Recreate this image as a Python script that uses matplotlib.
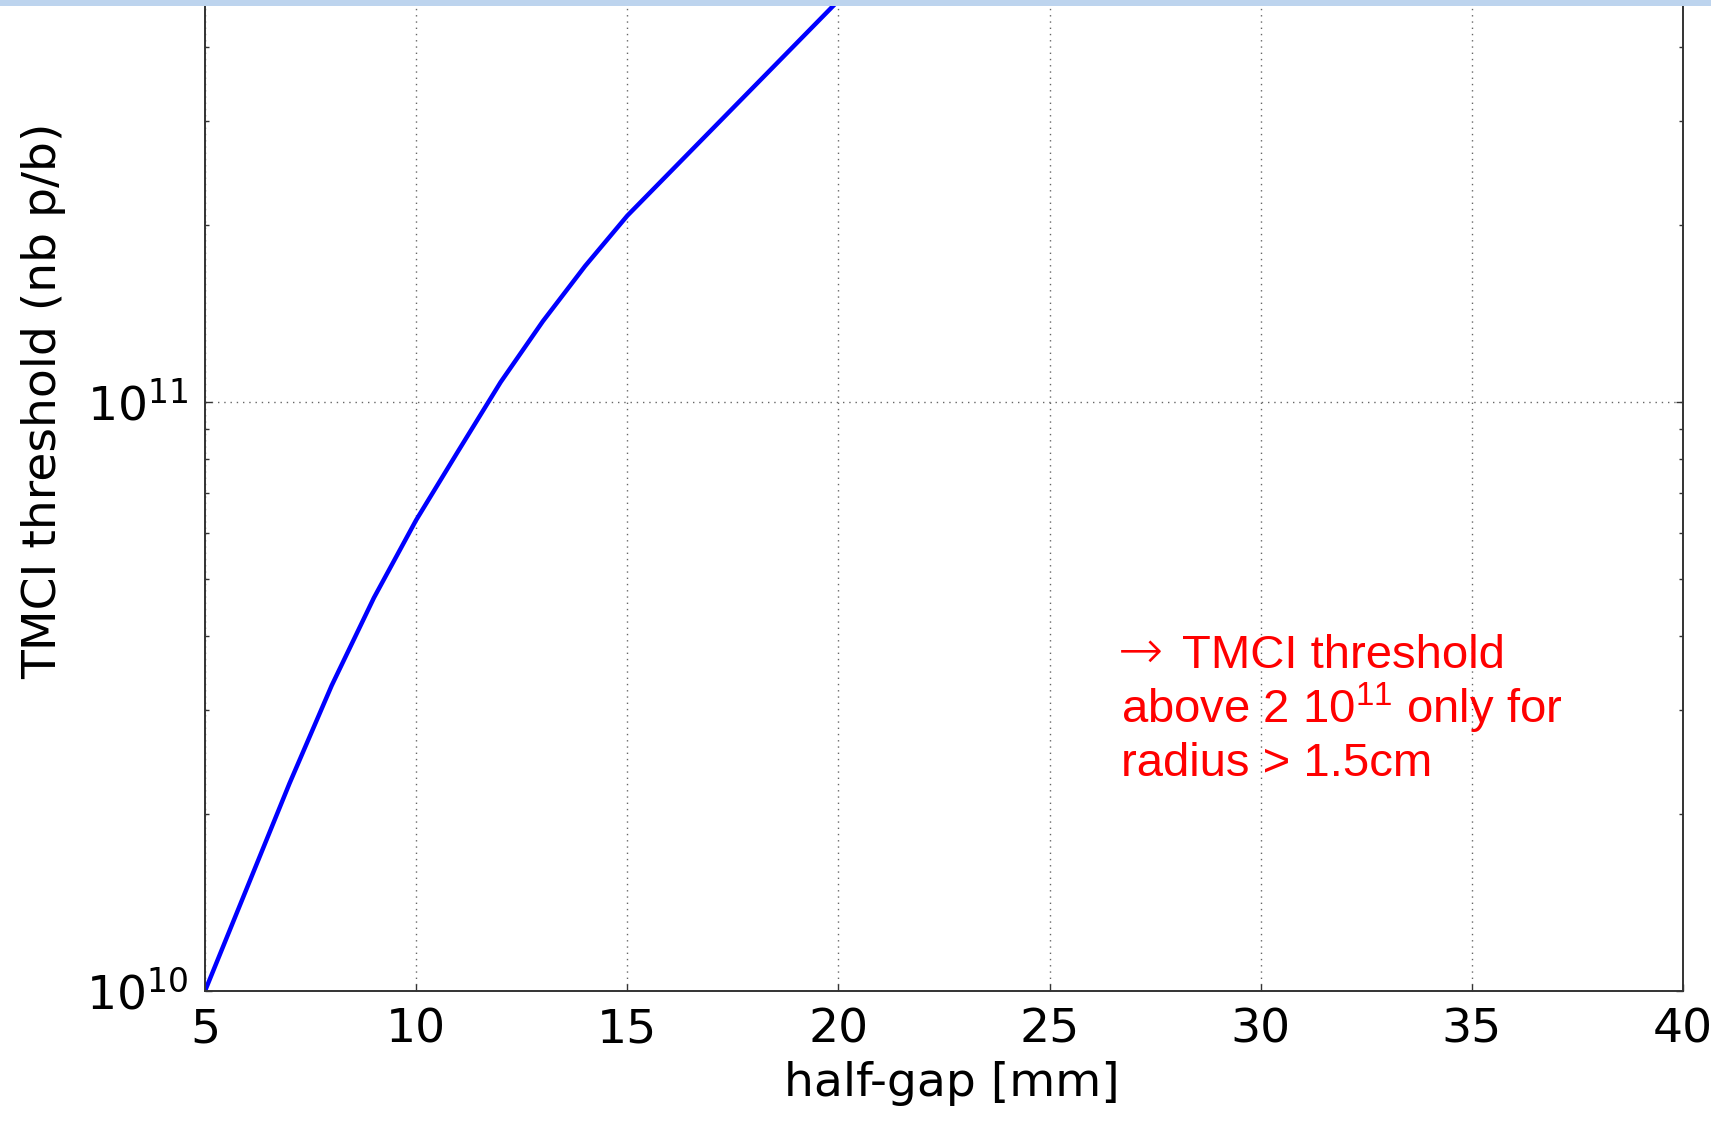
import matplotlib
matplotlib.use("Agg")
import matplotlib.pyplot as plt
from matplotlib.patches import Rectangle

# ---- data ----
half_gap = [5, 6, 7, 8, 9, 10, 11, 12, 13, 14, 15, 20]
tmci_threshold = [1.0e10, 1.5e10, 2.25e10, 3.3e10, 4.65e10, 6.3e10,
                  8.26e10, 1.08e11, 1.37e11, 1.70e11, 2.07e11, 4.8e11]
x_ticks = [5, 10, 15, 20, 25, 30, 35, 40]
x_label = "half-gap [mm]"
y_label = "TMCI threshold (nb p/b)"
note_arrow = "\u2192"
note_lines = ["TMCI threshold",
              r"above 2 10$^{\mathregular{11}}$ only for",
              "radius > 1.5cm"]

plt.rcParams['font.family'] = ['DejaVu Sans']
plt.rcParams['font.size'] = 34

W, H = 1711, 1125
fig = plt.figure(figsize=(W / 100, H / 100), dpi=100)
fig.patch.set_facecolor('white')

# axes: the image is a crop, the axes run up to the top edge
left_px, right_px, bottom_px, top_px = 205, 1683, 991, 0
ax = fig.add_axes([left_px / W, (H - bottom_px) / H,
                   (right_px - left_px) / W, (bottom_px - top_px) / H])

ax.plot(half_gap, tmci_threshold, color='#0000FF', lw=3.2)
ax.set_yscale('log')
ax.set_xlim(5, 40)
ax.set_ylim(1e10, 4.81e11)
ax.set_xticks(x_ticks)

ax.grid(True, which='major', linestyle=(0, (1, 3.5)), color='0.4', lw=1.0)
for s in ax.spines.values():
    s.set_linewidth(1.4)
    s.set_color('#333333')
ax.spines['top'].set_visible(False)

ax.tick_params(which='both', direction='in', top=False, right=True,
               labelsize=34, width=1.0, color='#333333')
ax.tick_params(which='major', length=5, pad=12)
ax.tick_params(which='minor', length=3)

ax.set_xlabel(x_label, fontsize=34, labelpad=6)
ax.xaxis.label.set_x(0.505)
ax.set_ylabel(y_label, fontsize=34)
ax.yaxis.set_label_coords(-0.094, 0.5954)

# annotation in red
baselines = [668, 723, 776]
starts = [1182, 1121, 1121]
fig.text(1118 / W, 1 - 668 / H, note_arrow, color='#FF0000', fontsize=39,
         family=['DejaVu Sans'], fontweight='light', ha='left', va='baseline')
for line, xs, yb in zip(note_lines, starts, baselines):
    fig.text(xs / W, 1 - yb / H, line, color='#FF0000', fontsize=34,
             family=['Liberation Sans', 'DejaVu Sans'],
             ha='left', va='baseline')

# light blue band at the top (slide frame)
fig.add_artist(Rectangle((0, 1 - 6 / H), 1, 6 / H, transform=fig.transFigure,
                         facecolor='#BDD4EE', edgecolor='none', zorder=10))

fig.savefig('out.png', dpi=100)
